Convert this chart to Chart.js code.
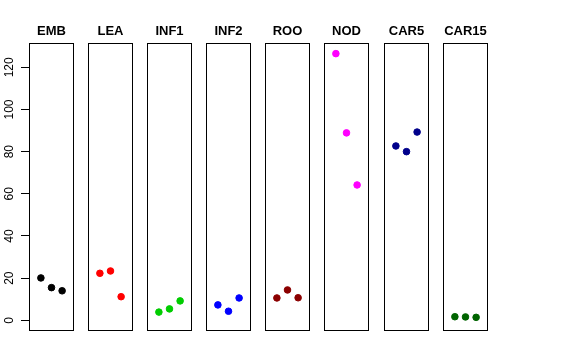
<html>
<head>
<title>Panels</title>
<script src="https://cdn.jsdelivr.net/npm/chart.js@4.4.1/dist/chart.umd.min.js"></script>
<style>
  body { margin: 0; background: #fff; }
  #wrap { position: relative; width: 576px; height: 360px; }
  #wrap canvas { position: absolute; top: 0; }
</style>
</head>
<body>
<div id="wrap"></div>
<script>
// one panel per group, three observations each
var groups = ["EMB", "LEA", "INF1", "INF2", "ROO", "NOD", "CAR5", "CAR15"];
var colors = ["#000000", "#FF0000", "#00CD00", "#0000FF", "#8B0000", "#FF00FF", "#00008B", "#006400"];
var EMB   = [20.1, 15.5, 14.0];
var LEA   = [22.3, 23.4, 11.2];
var INF1  = [3.9, 5.4, 9.2];
var INF2  = [7.3, 4.3, 10.6];
var ROO   = [10.6, 14.4, 10.7];
var NOD   = [126.5, 88.9, 64.2];
var CAR5  = [82.7, 80.0, 89.3];
var CAR15 = [1.7, 1.6, 1.4];
var values = [EMB, LEA, INF1, INF2, ROO, NOD, CAR5, CAR15];
var yTicks = [0, 20, 40, 60, 80, 100, 120];

var panelLeft = [29, 88, 147, 206, 265, 324, 384, 443];
var panelWidth = 45;
var axisWidth = 29;
var side = 8;   // spare room each side so wide titles are not squeezed

var boxPlugin = {
  id: "box",
  afterDraw: function(chart) {
    var a = chart.chartArea, ctx = chart.ctx;
    ctx.save();
    ctx.strokeStyle = "#000";
    ctx.lineWidth = 1;
    ctx.strokeRect(Math.round(a.left) + 0.5, Math.round(a.top) + 0.5,
                   Math.round(a.right - a.left) - 1, Math.round(a.bottom - a.top));
    ctx.restore();
  }
};

var wrap = document.getElementById("wrap");
groups.forEach(function(g, i) {
  var first = i === 0;
  var c = document.createElement("canvas");
  var w = first ? axisWidth + panelWidth + side : panelWidth + 2 * side;
  var left = first ? 0 : panelLeft[i] - side;
  c.width = w;
  c.height = 360;
  c.style.left = left + "px";
  c.style.width = w + "px";
  c.style.height = "360px";
  wrap.appendChild(c);

  new Chart(c.getContext("2d"), {
    type: "scatter",
    data: {
      datasets: [{
        data: values[i].map(function(v, j) { return { x: j + 1, y: v }; }),
        backgroundColor: colors[i],
        borderColor: colors[i],
        pointRadius: 3.3,
        pointHoverRadius: 3.3
      }]
    },
    options: {
      responsive: false,
      animation: false,
      events: [],
      layout: {
        autoPadding: false,
        padding: { left: first ? 0 : side, right: side, top: 0, bottom: 29.7 }
      },
      plugins: {
        legend: { display: false },
        tooltip: { enabled: false },
        title: {
          display: true,
          text: g,
          color: "#000",
          align: "center",
          fullSize: !first,
          font: { family: "Liberation Sans", size: 13, weight: "bold", lineHeight: 1.2 },
          padding: { top: 23.9, bottom: 3.8 }
        }
      },
      scales: {
        x: {
          type: "linear",
          min: -0.12,
          max: 4.12,
          display: false
        },
        y: {
          type: "linear",
          min: -4.74,
          max: 131.4,
          display: first,
          afterBuildTicks: function(s) { s.ticks = yTicks.map(function(v) { return { value: v }; }); },
          afterFit: function(s) { if (first) s.width = axisWidth; },
          border: { display: false },
          grid: { drawOnChartArea: false, tickLength: 8, color: "#000", tickColor: "#000" },
          ticks: {
            color: "#000",
            minRotation: 90,
            maxRotation: 90,
            crossAlign: "center",
            padding: 1,
            font: { family: "Liberation Sans", size: 12 }
          }
        }
      }
    },
    plugins: [boxPlugin]
  });
});
</script>
</body>
</html>
